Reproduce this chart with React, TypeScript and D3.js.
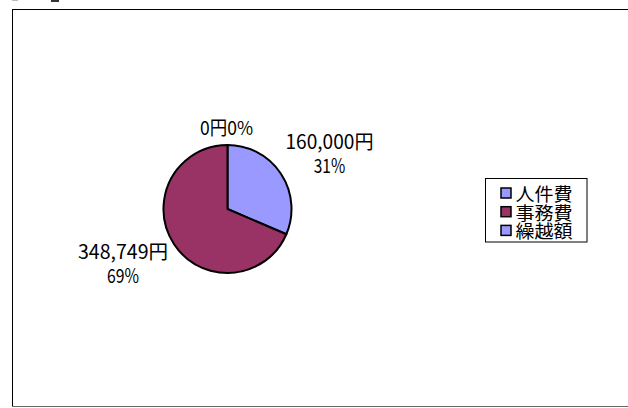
import React from "react";
import * as d3 from "d3";

const categories = ["人件費", "事務費", "繰越額"];
const values = [160000, 348749, 0];
const colors = ["#9999FF", "#993366", "#9999FF"];

const W = 628;
const H = 408;
const FONT = "'Noto Sans CJK JP', 'Noto Sans', sans-serif";

export default function App() {
  const cx = 227.5;
  const cy = 209;
  const r = 64;
  const total = d3.sum(values);
  const pie = d3.pie<number>().sort(null).startAngle(0).endAngle(2 * Math.PI)(values);
  const arc = d3.arc<d3.PieArcDatum<number>>().innerRadius(0).outerRadius(r);
  const fmt = d3.format(",");
  const pct = (v: number) => `${Math.round((v / total) * 100)}%`;

  const labelPos = [
    { x: 329.5, y1: 148.5, y2: 173, w1: 88, w2: 31.5, oneLine: false },
    { x: 123, y1: 258.5, y2: 283, w1: 90, w2: 32, oneLine: false },
    { x: 226.5, y1: 135, y2: 135, w1: 53, w2: 0, oneLine: true },
  ];

  const legendX = 485;
  const legendY = 178.5;
  const legendRow = 18.7;

  return (
    <div style={{ position: "absolute", left: 0, top: 0 }}>
      <svg width={W} height={H} style={{ display: "block", background: "#fff" }}>
        <rect x={12} y={0} width={6} height={1} fill="#bbb" />
        <rect x={51} y={0} width={8} height={2} fill="#333" />
        <line x1={12} y1={9.5} x2={W} y2={9.5} stroke="#000" strokeWidth={1} />
        <line x1={12.5} y1={9} x2={12.5} y2={406} stroke="#000" strokeWidth={1} />
        <line x1={12} y1={406.5} x2={W} y2={406.5} stroke="#666" strokeWidth={1} />

        <g transform={`translate(${cx},${cy})`}>
          {pie.map((d, i) =>
            d.value > 0 ? (
              <path key={i} d={arc(d) || ""} fill={colors[i]} stroke="#000" strokeWidth={2} strokeLinejoin="round" />
            ) : null
          )}
        </g>

        {pie.map((d, i) => {
          const p = labelPos[i];
          const t1 = `${fmt(d.value)}円`;
          const t2 = pct(d.value);
          if (p.oneLine) {
            return (
              <text key={i} x={p.x} y={p.y1} textAnchor="middle" fontFamily={FONT} fontSize={19}
                textLength={p.w1} lengthAdjust="spacingAndGlyphs" fill="#000">
                {t1 + t2}
              </text>
            );
          }
          return (
            <g key={i} fontFamily={FONT} fontSize={19.5} fill="#000">
              <text x={p.x} y={p.y1} textAnchor="middle" textLength={p.w1} lengthAdjust="spacingAndGlyphs">{t1}</text>
              <text x={p.x} y={p.y2} textAnchor="middle" textLength={p.w2} lengthAdjust="spacingAndGlyphs">{t2}</text>
            </g>
          );
        })}

        <rect x={legendX + 0.5} y={legendY} width={101.5} height={63.5} fill="#fff" stroke="#000" strokeWidth={1} />
        {categories.map((c, i) => {
          const yc = legendY + 14.5 + i * legendRow;
          return (
            <g key={c}>
              <rect x={501} y={yc - 5} width={10} height={10} fill={colors[i]} stroke="#000" strokeWidth={1.5} />
              <text x={515.5} y={yc} dominantBaseline="central" fontFamily={FONT} fontSize={18}
                textLength={57} lengthAdjust="spacingAndGlyphs" fill="#000">{c}</text>
            </g>
          );
        })}
      </svg>
    </div>
  );
}
